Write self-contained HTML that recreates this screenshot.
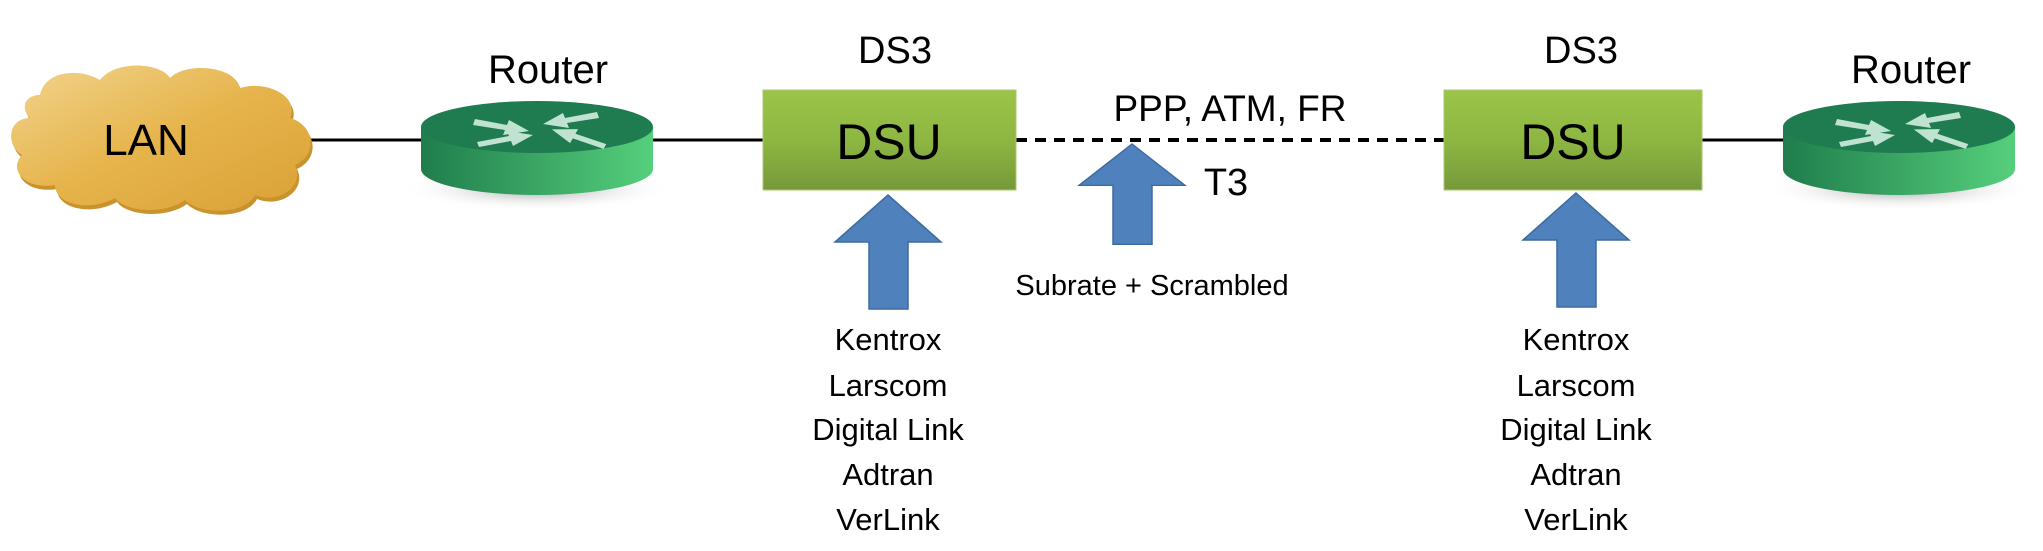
<!DOCTYPE html>
<html><head><meta charset="utf-8"><style>
html,body{margin:0;padding:0;background:#fff;}
svg{display:block}
text{font-family:"Liberation Sans",sans-serif;fill:#000;}
</style></head><body>
<svg width="2043" height="551" viewBox="0 0 2043 551" xmlns="http://www.w3.org/2000/svg">
<defs>
<linearGradient id="cloud" x1="0" y1="0" x2="1" y2="1">
<stop offset="0" stop-color="#f2d48e"/><stop offset="0.5" stop-color="#e6b44c"/><stop offset="1" stop-color="#d9a136"/>
</linearGradient>
<linearGradient id="rside" x1="0" y1="0" x2="1" y2="0">
<stop offset="0" stop-color="#1f7d4c"/><stop offset="1" stop-color="#56cf7c"/>
</linearGradient>
<linearGradient id="dsu" x1="0" y1="0" x2="0" y2="1">
<stop offset="0" stop-color="#9bc449"/><stop offset="0.5" stop-color="#8db742"/><stop offset="1" stop-color="#76993a"/>
</linearGradient>
<radialGradient id="shadow" cx="0.5" cy="0.5" r="0.5">
<stop offset="0" stop-color="#888" stop-opacity="0.8"/><stop offset="1" stop-color="#fff" stop-opacity="0"/>
</radialGradient>
<g id="router">
<ellipse cx="0" cy="62" rx="135" ry="22" fill="url(#shadow)"/>
<path d="M-116,0 L-116,42 A116,26 0 0 0 116,42 L116,0 Z" fill="url(#rside)"/>
<ellipse cx="0" cy="0" rx="116" ry="26" fill="#1e7c50"/>
<g fill="#bfe3d0">
<polygon points="-62,-8 -30,-2 -28,-7 -8,4 -34,8 -32,3 -64,-2"/>
<polygon points="58,-9 26,-3 24,-8 4,3 30,7 28,2 60,-3" transform="translate(2,-6)"/>
<polygon points="-58,20 -26,14 -24,19 -4,8 -30,4 -28,9 -60,15"/>
<polygon points="68,18 36,12 34,17 14,6 40,2 38,7 70,13" transform="rotate(8 40 10)"/>
</g>
</g>
<g id="bluearrow">
<polygon points="0,0 53,47 20,47 20,114 -19,114 -19,47 -53,47" fill="#4f81bd" stroke="#3b6a9e" stroke-width="1.5"/>
</g>
</defs>

<line x1="305" y1="140" x2="425" y2="140" stroke="#000" stroke-width="3"/>
<line x1="650" y1="140" x2="764" y2="140" stroke="#000" stroke-width="3"/>
<line x1="1016" y1="140" x2="1444" y2="140" stroke="#000" stroke-width="4" stroke-dasharray="11,8"/>
<line x1="1702" y1="140" x2="1785" y2="140" stroke="#000" stroke-width="3"/>

<path d="M40,95 C45,70 80,68 100,80 C115,60 160,62 170,78 C185,62 235,65 240,88 C265,80 300,95 290,118 C315,125 318,155 295,165 C305,185 280,205 255,195 C245,215 200,215 185,200 C165,215 125,212 115,198 C90,212 55,205 55,185 C25,190 8,170 22,155 C5,145 8,118 30,118 C20,108 25,95 40,95 Z" fill="#c9922c" transform="translate(2,4)"/>
<path d="M40,95 C45,70 80,68 100,80 C115,60 160,62 170,78 C185,62 235,65 240,88 C265,80 300,95 290,118 C315,125 318,155 295,165 C305,185 280,205 255,195 C245,215 200,215 185,200 C165,215 125,212 115,198 C90,212 55,205 55,185 C25,190 8,170 22,155 C5,145 8,118 30,118 C20,108 25,95 40,95 Z" fill="url(#cloud)"/>
<text x="146" y="155" font-size="44" text-anchor="middle">LAN</text>

<use href="#router" transform="translate(537,127)"/>
<use href="#router" transform="translate(1899,127)"/>
<text x="548" y="83" font-size="40" text-anchor="middle">Router</text>
<text x="1911" y="83" font-size="40" text-anchor="middle">Router</text>

<rect x="763" y="90" width="253" height="100" fill="url(#dsu)" stroke="#a8c870" stroke-width="1"/>
<rect x="1444" y="90" width="258" height="100" fill="url(#dsu)" stroke="#a8c870" stroke-width="1"/>
<text x="889" y="159" font-size="50" text-anchor="middle">DSU</text>
<text x="1573" y="159" font-size="50" text-anchor="middle">DSU</text>
<text x="895" y="63" font-size="38" text-anchor="middle">DS3</text>
<text x="1581" y="63" font-size="38" text-anchor="middle">DS3</text>

<use href="#bluearrow" transform="translate(888,195)"/>
<use href="#bluearrow" transform="translate(1576,193)"/>
<g transform="translate(1132,144) scale(1,0.88)"><use href="#bluearrow"/></g>

<text x="1230" y="121" font-size="37" text-anchor="middle">PPP, ATM, FR</text>
<text x="1226" y="195" font-size="38" text-anchor="middle">T3</text>
<text x="1152" y="295" font-size="29" text-anchor="middle">Subrate  + Scrambled</text>

<g font-size="31" text-anchor="middle">
<text x="888" y="350">Kentrox</text>
<text x="888" y="396">Larscom</text>
<text x="888" y="440">Digital Link</text>
<text x="888" y="485">Adtran</text>
<text x="888" y="530">VerLink</text>
<text x="1576" y="350">Kentrox</text>
<text x="1576" y="396">Larscom</text>
<text x="1576" y="440">Digital Link</text>
<text x="1576" y="485">Adtran</text>
<text x="1576" y="530">VerLink</text>
</g>
</svg>
</body></html>
